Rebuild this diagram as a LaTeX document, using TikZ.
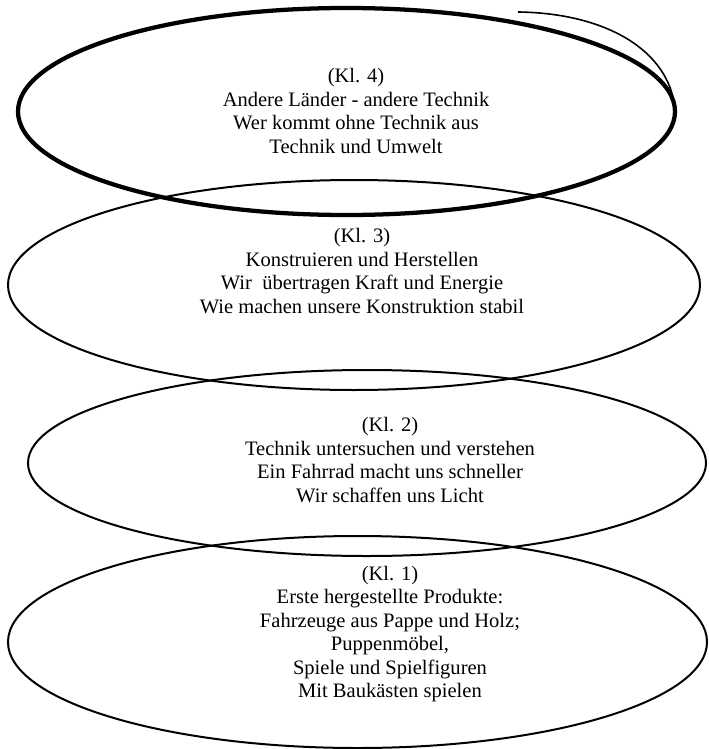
\documentclass[tikz,border=0pt]{standalone}
\usepackage{fontspec}
\setmainfont{Liberation Serif}
\usetikzlibrary{shapes.geometric}

\tikzset{
	ring/.style={draw,ellipse,line width=1.5pt,inner sep=0pt},
	thickring/.style={ring,line width=3.2pt},
	txt/.style={align=center,font=\fontsize{15.4}{17.6}\selectfont}
}

\begin{document}
\begin{tikzpicture}[x=0.75pt,y=-0.75pt]
	\useasboundingbox (0,0) rectangle (709,749);
	% rings, top to bottom
	\node[thickring,minimum width=492.75pt,minimum height=155.25pt] (e4) at (346.5,111.5) {};
	\node[ring,minimum width=519pt,minimum height=157.5pt] (e3) at (354,285) {};
	\node[ring,minimum width=508.5pt,minimum height=139.5pt] (e2) at (367,463) {};
	\node[ring,minimum width=524.25pt,minimum height=159pt] (e1) at (357.5,642) {};
	% the loose end at the top
	\draw[line width=1.2pt] (518,12) .. controls (605,13) and (670,50) .. (675,110);
	% texts
	\node[txt] (t4) at (356,111) {(Kl. 4)\\Andere Länder - andere Technik\\Wer kommt ohne Technik aus\\Technik und Umwelt};
	\node[txt] (t3) at (362,271) {(Kl. 3)\\Konstruieren und Herstellen\\Wir\ \ übertragen Kraft und Energie\\Wie machen unsere Konstruktion stabil};
	\node[txt] (t2) at (390,460) {(Kl. 2)\\Technik untersuchen und verstehen\\Ein Fahrrad macht uns schneller\\Wir schaffen uns Licht};
	\node[txt] (t1) at (390,634) {(Kl. 1)\\Erste hergestellte Produkte:\\Fahrzeuge aus Pappe und Holz;\\Puppenmöbel,\\Spiele und Spielfiguren\\Mit Baukästen spielen};
\end{tikzpicture}
\end{document}
